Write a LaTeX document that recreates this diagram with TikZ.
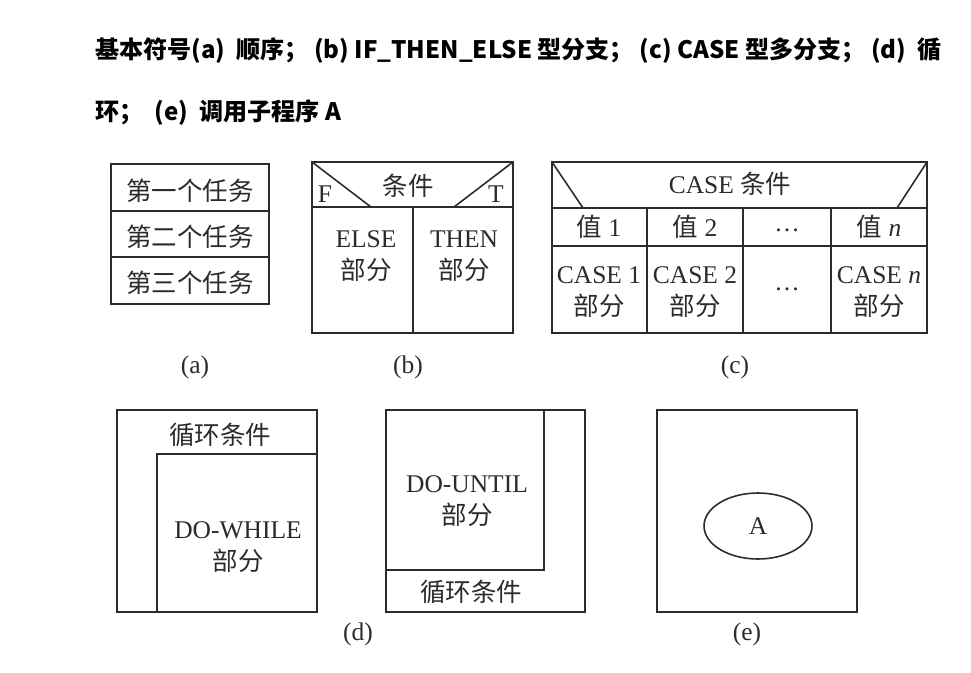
\documentclass[tikz,border=0pt]{standalone}
\usepackage{fontspec}
\setmainfont{Liberation Serif}
\newfontfamily\cjk{Noto Sans CJK SC}
\usetikzlibrary{shapes.geometric}
\definecolor{ink}{HTML}{2B2B2B}
\newcommand{\zh}[1]{{\cjk #1}}
\tikzset{
  box/.style={draw=ink, line width=0.9pt},
  txt/.style={text=ink, font=\fontsize{14.5}{18}\selectfont, align=center, inner sep=0pt},
  title/.style={anchor=west, inner sep=0pt, font=\cjk\bfseries\fontsize{13.7}{16}\selectfont}
}
\begin{document}
\begin{tikzpicture}[x=0.02cm, y=-0.02cm]
\useasboundingbox (0,0) rectangle (971,673);
\node (t1) at (95,51) [title] {基本符号(a)~~顺序；~(b) IF\_THEN\_ELSE 型分支；~(c) CASE 型多分支；~(d)~~循};
\node (t2) at (95,113) [title] {环；~~(e)~~调用子程序 A};

\draw [box] (111,164) rectangle (269,304);
\draw [box] (111,211) -- (269,211);
\draw [box] (111,257) -- (269,257);
\node (a1) at (190,191) [txt] {\zh{第一个任务}};
\node (a2) at (190,237) [txt] {\zh{第二个任务}};
\node (a3) at (190,283) [txt] {\zh{第三个任务}};
\node (la) at (195,367) [txt] {(a)};

\draw [box] (312,162) rectangle (513,333);
\draw [box] (312,207) -- (513,207);
\draw [box] (413,207) -- (413,333);
\draw [box] (312,162) -- (371,207);
\draw [box] (513,162) -- (454,207);
\node (cond) at (408,186) [txt] {\zh{条件}};
\node (f) at (325,194) [txt] {F};
\node (t) at (496,194) [txt] {T};
\node (else) at (366,256) [txt] {ELSE\\\zh{部分}};
\node (then) at (464,256) [txt] {THEN\\\zh{部分}};
\node (lb) at (408,367) [txt] {(b)};

\draw [box] (552,162) rectangle (927,333);
\draw [box] (552,208) -- (927,208);
\draw [box] (552,246) -- (927,246);
\foreach \x in {647,743,831}
  \draw [box] (\x,208) -- (\x,333);
\draw [box] (552,162) -- (583,208);
\draw [box] (927,162) -- (897,208);
\node (case) at (730,184) [txt] {CASE \zh{条件}};
\node (v1) at (599,227) [txt] {\zh{值} 1};
\node (v2) at (695,227) [txt] {\zh{值} 2};
\node (vd) at (787,230) [txt] {…};
\node (vn) at (879,227) [txt] {\zh{值} \textit{n}};
\node (c1) at (599,292) [txt] {CASE 1\\\zh{部分}};
\node (c2) at (695,292) [txt] {CASE 2\\\zh{部分}};
\node (cd) at (787,289) [txt] {…};
\node (cn) at (879,292) [txt] {CASE \textit{n}\\\zh{部分}};
\node (lc) at (735,367) [txt] {(c)};

\draw [box] (117,410) rectangle (317,612);
\draw [box] (157,612) -- (157,454) -- (317,454);
\node (wcond) at (220,435) [txt] {\zh{循环条件}};
\node (while) at (238,547) [txt] {DO-WHILE\\\zh{部分}};
\draw [box] (386,410) rectangle (585,612);
\draw [box] (386,570) -- (544,570) -- (544,410);
\node (until) at (467,501) [txt] {DO-UNTIL\\\zh{部分}};
\node (ucond) at (471,592) [txt] {\zh{循环条件}};
\node (ld) at (358,634) [txt] {(d)};

\draw [box] (657,410) rectangle (857,612);
\node (sub) at (758,526) [box, ellipse, minimum width=2.16cm, minimum height=1.32cm, inner sep=0pt] {};
\node (suba) at (sub.center) [txt] {A};
\node (le) at (747,634) [txt] {(e)};
\end{tikzpicture}
\end{document}
